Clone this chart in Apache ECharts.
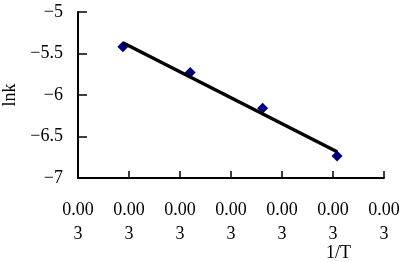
<!DOCTYPE html>
<html>
<head>
<meta charset="utf-8">
<script src="https://cdn.jsdelivr.net/npm/echarts@6/dist/echarts.min.js"></script>
<style>
  html, body { margin: 0; padding: 0; background: #fff; }
  #chart { width: 400px; height: 262px; }
</style>
</head>
<body>
<div id="chart"></div>
<script>
// 1/T values and lnk
var invT = [0.003044, 0.003110, 0.003181, 0.003254]
var lnk = [-5.42, -5.73, -6.16, -6.735]
// linear trend line end points
var trendX = [0.003044, 0.003254]
var trendY = [-5.37, -6.683]

var font = 'Liberation Serif'

var chart = echarts.init(document.getElementById('chart'))
var option = {
    animation: false,
    grid: { left: 78, right: 16, top: 12, bottom: 84, containLabel: false, outerBoundsMode: 'none' },
    graphic: [{
        type: 'text', left: 326, top: 244,
        style: { text: '1/T', fontFamily: font, fontSize: 18, fill: '#000' }
    }],
    xAxis: {
        type: 'value',
        min: 0.0030,
        max: 0.0033,
        interval: 0.00005,
        axisLine: { onZero: false, lineStyle: { color: '#000', width: 2 } },
        axisTick: { inside: true, length: 7, lineStyle: { color: '#000', width: 1.5 } },
        splitLine: { show: false },
        axisLabel: {
            color: '#000', fontFamily: font, fontSize: 18, margin: 20, lineHeight: 24,
            showMinLabel: true, showMaxLabel: true,
            formatter: function (v) {
                var s = v.toFixed(3)
                return s.slice(0, 4) + '\n' + s.slice(4)
            }
        }
    },
    yAxis: {
        type: 'value',
        min: -7,
        max: -5,
        interval: 0.5,
        name: 'lnk',
        nameLocation: 'middle',
        nameGap: 58,
        nameRotate: 90,
        nameTextStyle: { fontFamily: font, fontSize: 18, color: '#000' },
        axisLine: { lineStyle: { color: '#000', width: 2 } },
        axisTick: { inside: true, length: 9, lineStyle: { color: '#000', width: 1.5 } },
        splitLine: { show: false },
        axisLabel: {
            color: '#000', fontFamily: font, fontSize: 18, margin: 15,
            formatter: function (v) { return String(v).replace('-', '\u2212') }
        }
    },
    series: [
        {
            type: 'scatter',
            symbol: 'diamond',
            symbolSize: 11,
            itemStyle: { color: '#000080', opacity: 1 },
            data: invT.map(function (x, i) { return [x, lnk[i]] })
        },
        {
            type: 'line',
            showSymbol: false,
            symbol: 'none',
            lineStyle: { color: '#000', width: 3.5 },
            data: trendX.map(function (x, i) { return [x, trendY[i]] }),
            z: 3
        }
    ]
}
chart.setOption(option)
</script>
</body>
</html>
